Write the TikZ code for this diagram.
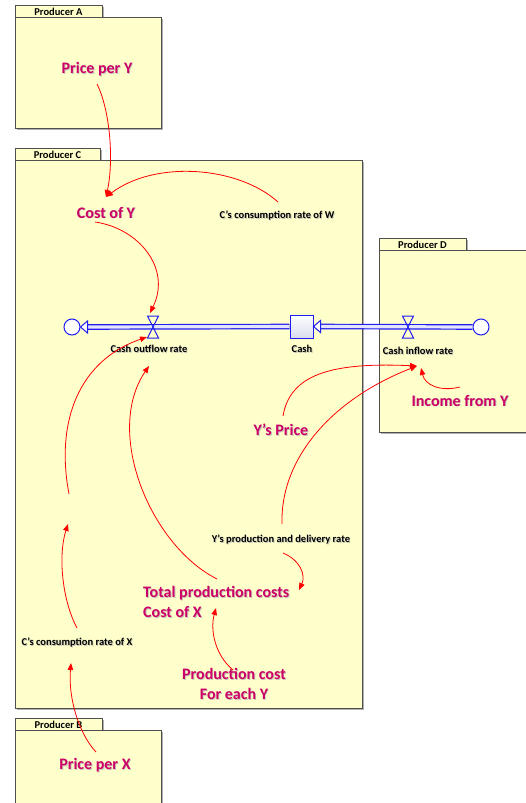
\documentclass[tikz,border=0pt]{standalone}
\usepackage{fontspec}
\setmainfont{Carlito}
\usetikzlibrary{arrows.meta,calc}

\definecolor{paneyellow}{HTML}{FFFFCC}
\definecolor{paneedge}{HTML}{505050}
\definecolor{paneshadow}{HTML}{B0B0B0}
\definecolor{varpink}{HTML}{CC0066}
\definecolor{flowblue}{HTML}{1E1EF0}
\definecolor{pipefill}{HTML}{E4E4FF}
\definecolor{stocklow}{HTML}{D9DCEE}
\definecolor{textshade}{HTML}{C8C8B8}

% text with a soft offset shadow behind it
\newcommand\shtext[1]{\leavevmode\rlap{\kern0.9pt\raisebox{-0.9pt}{\color{textshade}#1}}#1}

\tikzset{
  pane/.style={fill=paneyellow, draw=paneedge, line width=0.9pt},
  paneshade/.style={fill=paneshadow},
  tabtext/.style={font=\fontsize{10.5}{12}\selectfont\bfseries, inner sep=0pt},
  bigvar/.style={font=\fontsize{16}{20}\selectfont\bfseries, text=varpink, inner sep=0pt},
  smallvar/.style={font=\fontsize{10.5}{12}\selectfont\bfseries, inner sep=0pt},
  pipe/.style={draw=flowblue, double=pipefill, line width=1.2pt, double distance=3.2pt},
  pipetip/.style={draw=flowblue, fill=white, line width=1pt, line join=miter},
  cloudend/.style={circle, draw=flowblue, fill=white, line width=1pt, minimum size=16pt, inner sep=0pt},
  stockbox/.style={rectangle, draw=flowblue, top color=white, bottom color=stocklow, line width=1pt, minimum size=23pt, inner sep=0pt},
  valveline/.style={draw=flowblue, line width=1pt, line join=miter},
  link/.style={draw=red, line width=0.8pt, -{Triangle[length=7pt,width=5.5pt]}},
}

% panel with a tab on its upper-left edge: left, top, right, bottom, tab right, tab top
\newcommand\prodpane[7]{%
  \fill[paneshade] (#1+2,#2+2) rectangle (#3+2,#4+2);
  \fill[paneshade] (#1+2,#6+2) rectangle (#5+2,#2+2);
  \draw[pane] (#1,#6) rectangle (#5,#2);
  \draw[pane] (#1,#2) rectangle (#3,#4);
  \node[tabtext] at ({(#1+#5)/2},{(#6+#2)/2+0.5}) {#7};
}

\begin{document}
\begin{tikzpicture}[x=1pt,y=-1pt]
\useasboundingbox (0,0) rectangle (526,803);
\clip (0,0) rectangle (526,803);

% panels
\prodpane{15}{17}{161}{128}{102}{5}{Producer A}
\prodpane{15}{160}{362}{708}{100}{148}{Producer C}
\prodpane{379}{250}{540}{432}{466}{238}{Producer D}
\prodpane{15}{730}{161}{820}{102}{718}{Producer B}

% stock and flow chain
\node[cloudend] (sink) at (72,327) {};
\node[cloudend] (source) at (481,327) {};
\node[stockbox] (cash) at (301.5,326.5) {};
\coordinate (outvalve) at (153,327);
\coordinate (invalve) at (408,327);

\draw[pipe] (cash.west) -- ($(sink.east)+(7,0)$);
\draw[pipetip] (sink.east) -- ++(7,-6) -- ++(0,12) -- cycle;
\draw[pipe] (source.west) -- ($(cash.east)+(7,0)$);
\draw[pipetip] (cash.east) -- ++(7,-6) -- ++(0,12) -- cycle;

\draw[valveline] ($(outvalve)+(-5.5,-11)$) -- ++(11,0) -- ++(-11,22) -- ++(11,0) -- cycle;
\draw[valveline] ($(invalve)+(-5.5,-11)$) -- ++(11,0) -- ++(-11,22) -- ++(11,0) -- cycle;

\node[smallvar] (outrate) at (149,349) {\shtext{Cash outflow rate}};
\node[smallvar] (cashlbl) at (302,349) {\shtext{Cash}};
\node[smallvar] (inrate) at (418,351) {\shtext{Cash inflow rate}};

% auxiliary variables
\node[bigvar] (priceY) at (97,70) {\shtext{Price per Y}};
\node[bigvar] (costY) at (106,213) {\shtext{Cost of Y}};
\node[smallvar] (consW) at (277,216) {\shtext{C’s consumption rate of W}};
\node[bigvar] (ysprice) at (281,430) {\shtext{Y’s Price}};
\node[bigvar] (income) at (460,401) {\shtext{Income from Y}};
\node[smallvar] (yprod) at (281,540) {\shtext{Y’s production and delivery rate}};
\node[bigvar, align=left, anchor=west] (totcost) at (143,602) {\shtext{Total production costs}\\\shtext{Cost of X}};
\node[bigvar, align=center] (prodcost) at (234,684) {\shtext{Production cost}\\\shtext{For each Y}};
\node[smallvar] (consX) at (77,643) {\shtext{C’s consumption rate of X}};
\node[bigvar] (priceX) at (95,766) {\shtext{Price per X}};

\coordinate (gaptop) at (69,494);
\coordinate (gapbot) at (68,524);

% causal links
\draw[link] ($(priceY)+(0,14)$) .. controls (110,110) and (114,160) .. ($(costY)+(0,-16)$);
\draw[link] ($(consW)+(1,-14)$) .. controls (238,166) and (155,160) .. ($(costY)+(0,-16)$);
\draw[link] ($(costY)+(-11,9)$) .. controls (138,228) and (172,268) .. ($(outvalve)+(-3,-14)$);
\draw[link] (gaptop) .. controls (55,420) and (80,360) .. ($(outvalve)+(-6,10)$);
\draw[link] ($(consX)+(0,-15)$) .. controls (62,600) and (58,555) .. (gapbot);
\draw[link] ($(priceX)+(1,-14)$) .. controls (80,735) and (68,700) .. ($(consX)+(-6,20)$);
\draw[link] ($(totcost.west)+(74,-23)$) .. controls (150,545) and (104,432) .. ($(outrate)+(0,17)$);
\draw[link] ($(yprod)+(2,13)$) .. controls (300,560) and (306,575) .. ($(totcost.west)+(156,-12)$);
\draw[link] ($(prodcost)+(-1,-14)$) .. controls (215,655) and (210,630) .. ($(totcost.west)+(73,6)$);
\draw[link] ($(ysprice)+(2,-14)$) .. controls (290,375) and (330,362) .. ($(inrate)+(-1,15)$);
\draw[link] ($(yprod)+(1,-16)$) .. controls (280,460) and (330,400) .. ($(inrate)+(-1,15)$);
\draw[link] ($(income)+(0,-14)$) .. controls (440,392) and (425,385) .. ($(inrate)+(3,17)$);
\end{tikzpicture}
\end{document}
